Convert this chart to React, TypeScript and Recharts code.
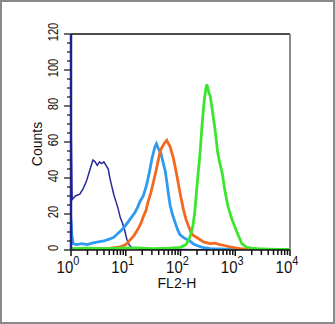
import { LineChart, Line, XAxis, YAxis, ReferenceLine } from "recharts";

const navyX = [0, 0.02, 0.08, 0.16, 0.22, 0.28, 0.34, 0.4, 0.44, 0.48, 0.52, 0.56, 0.6, 0.64, 0.68, 0.71, 0.74, 0.78, 0.82, 0.86, 0.9, 0.94, 0.98, 1.02, 1.06, 1.1, 1.16, 1.25, 1.4, 1.6, 1.8, 2.0, 2.3, 2.6, 2.9, 3.2, 3.3];
const navyY = [74, 28, 30, 31, 34, 38, 44, 50, 49, 47, 49, 48, 49, 47, 45, 40, 36, 31, 27, 23, 18, 15, 11, 6, 3, 1.5, 1, 0.5, 0.3, 0.5, 0.2, 0.3, 0.2, 0.2, 0.1, 0.1, 0];

const blueX = [0, 0.015, 0.04, 0.1, 0.2, 0.3, 0.4, 0.5, 0.6, 0.7, 0.78, 0.85, 0.92, 0.98, 1.04, 1.1, 1.17, 1.22, 1.26, 1.32, 1.38, 1.43, 1.48, 1.53, 1.56, 1.6, 1.64, 1.68, 1.72, 1.75, 1.78, 1.81, 1.85, 1.9, 1.95, 1.99, 2.05, 2.11, 2.17, 2.23, 2.3, 2.4, 2.55, 2.7, 2.9, 3.1, 3.3];
const blueY = [17, 8, 3.5, 3, 3.5, 3, 4, 4.5, 5, 6, 7, 9, 11, 13, 15.5, 18, 21, 24, 27, 30, 36, 43, 51, 57, 59, 56, 54, 49, 44, 38, 31, 25, 20, 15.5, 11, 8.5, 7, 6, 5, 3.5, 2.5, 1.5, 0.8, 0.6, 0.4, 0.3, 0];

const orangeX = [0, 0.2, 0.4, 0.6, 0.72, 0.8, 0.9, 1.0, 1.08, 1.15, 1.23, 1.28, 1.32, 1.37, 1.41, 1.46, 1.5, 1.56, 1.63, 1.66, 1.69, 1.72, 1.75, 1.78, 1.81, 1.87, 1.93, 1.99, 2.05, 2.1, 2.14, 2.19, 2.23, 2.32, 2.42, 2.54, 2.63, 2.72, 2.8, 2.9, 3.0, 3.09, 3.2, 3.35, 3.5];
const orangeY = [0.5, 0.5, 0.7, 0.8, 1, 1.3, 1.7, 3, 5.6, 8, 12, 15, 18.4, 22, 27, 32, 37, 45, 55, 57, 58.5, 60, 61, 59, 57.5, 51, 42, 32, 23, 17, 13.8, 10, 8.2, 6.5, 4.5, 3.5, 3.8, 3, 2.5, 1.7, 1.2, 0.7, 0.5, 0.2, 0];

const greenX = [0, 0.3, 0.6, 0.9, 1.2, 1.5, 1.8, 2.0, 2.1, 2.17, 2.2, 2.23, 2.26, 2.28, 2.3, 2.32, 2.34, 2.36, 2.39, 2.43, 2.46, 2.48, 2.5, 2.52, 2.54, 2.56, 2.58, 2.63, 2.68, 2.72, 2.76, 2.81, 2.87, 2.94, 3.03, 3.12, 3.21, 3.3, 3.4, 3.6, 3.8, 4.0];
const greenY = [0.8, 1, 0.8, 1, 1.2, 0.8, 1, 1.5, 3, 7, 10, 14, 21, 28, 35, 42, 48, 55, 68, 82, 89, 92, 90, 87, 86, 82, 78, 67, 54, 48, 43, 33, 24, 17, 10, 3.5, 1.5, 1, 0.7, 0.5, 0.4, 0.4];

const decades = [0, 1, 2, 3, 4];
const yTicks = [0, 5, 10, 15, 20, 25, 30, 35, 40, 45, 50, 55, 60, 65, 70, 75, 80, 85, 90, 95, 100, 105, 110, 115, 120];

const toPoints = (xs: number[], ys: number[]) => xs.map((x, i) => ({ x, y: ys[i] }));

// major decade ticks plus log minor ticks 2..9
const xTicks: number[] = [];
decades.forEach((d) => {
  xTicks.push(d);
  if (d < 4) for (let m = 2; m <= 9; m++) xTicks.push(d + Math.log10(m));
});

const FONT = "'Liberation Sans', Arial, Helvetica, sans-serif";

const XTick = ({ x, y, payload }: any) => {
  const v = payload.value;
  const major = Math.abs(v - Math.round(v)) < 1e-6;
  return (
    <g>
      <line x1={x} x2={x} y1={y} y2={y + (major ? 6 : 5)} stroke="#111" strokeWidth={1.5} />
      {major && (
        <text
          transform={`translate(${x - 3},${y + 23}) scale(1,1.15)`}
          textAnchor="middle"
          fontSize={15}
          fontFamily={FONT}
          fill="#111"
        >
          10
          <tspan dy={-7} fontSize={11}>{Math.round(v)}</tspan>
        </text>
      )}
    </g>
  );
};

const YTick = ({ x, y, payload }: any) => {
  const v = payload.value;
  const major = v % 20 === 0;
  return (
    <g>
      <line x1={x - (major ? 7 : 4)} x2={x} y1={y} y2={y} stroke="#222" strokeWidth={1.3} />
      {major && (
        <text
          transform={`translate(${x - 13},${y - 2}) rotate(-90) scale(0.8,1)`}
          textAnchor="middle"
          fontSize={14}
          fontFamily={FONT}
          fill="#111"
        >
          {v}
        </text>
      )}
    </g>
  );
};

export default function App() {
  return (
    <div
      style={{
        position: "absolute",
        left: 0,
        top: 0,
        width: 335,
        height: 324,
        boxSizing: "border-box",
        border: "2px solid #8a8a8a",
        background: "#fff",
      }}
    >
      <div style={{ position: "absolute", left: -2, top: -2 }}>
        <LineChart width={335} height={324} margin={{ top: 34, right: 45, bottom: 44, left: 0 }}>
          <XAxis
            dataKey="x"
            type="number"
            domain={[0, 4]}
            ticks={xTicks}
            interval={0}
            height={30}
            tickSize={0}
            tickMargin={0}
            tickLine={false}
            axisLine={{ stroke: "#111", strokeWidth: 1.5 }}
            tick={<XTick />}
            allowDataOverflow
          />
          <YAxis
            type="number"
            domain={[0, 120]}
            ticks={yTicks}
            interval={0}
            width={71}
            tickSize={0}
            tickMargin={0}
            tickLine={false}
            axisLine={{ stroke: "#20209a", strokeWidth: 2.5 }}
            tick={<YTick />}
            allowDataOverflow
          />
          <ReferenceLine y={120} stroke="#111" strokeWidth={1.5} />
          <ReferenceLine x={4} stroke="#666" strokeWidth={1.5} />
          <Line data={toPoints(navyX, navyY)} dataKey="y" type="linear" stroke="#2a2a9c" strokeWidth={1.5} dot={false} isAnimationActive={false} />
          <Line data={toPoints(blueX, blueY)} dataKey="y" type="linear" stroke="#2e9bef" strokeWidth={2.8} dot={false} isAnimationActive={false} />
          <Line data={toPoints(orangeX, orangeY)} dataKey="y" type="linear" stroke="#f26a21" strokeWidth={2.8} dot={false} isAnimationActive={false} />
          <Line data={toPoints(greenX, greenY)} dataKey="y" type="linear" stroke="#3ce62d" strokeWidth={2.8} dot={false} isAnimationActive={false} />
        </LineChart>
        <svg width={335} height={324} style={{ position: "absolute", left: 0, top: 0, pointerEvents: "none" }}>
          <text transform="translate(42,144) rotate(-90)" textAnchor="middle" fontSize={14} fontFamily={FONT} fill="#111">
            Counts
          </text>
          <text x={177} y={288} textAnchor="middle" fontSize={14} fontFamily={FONT} fill="#111">
            FL2-H
          </text>
        </svg>
      </div>
    </div>
  );
}
